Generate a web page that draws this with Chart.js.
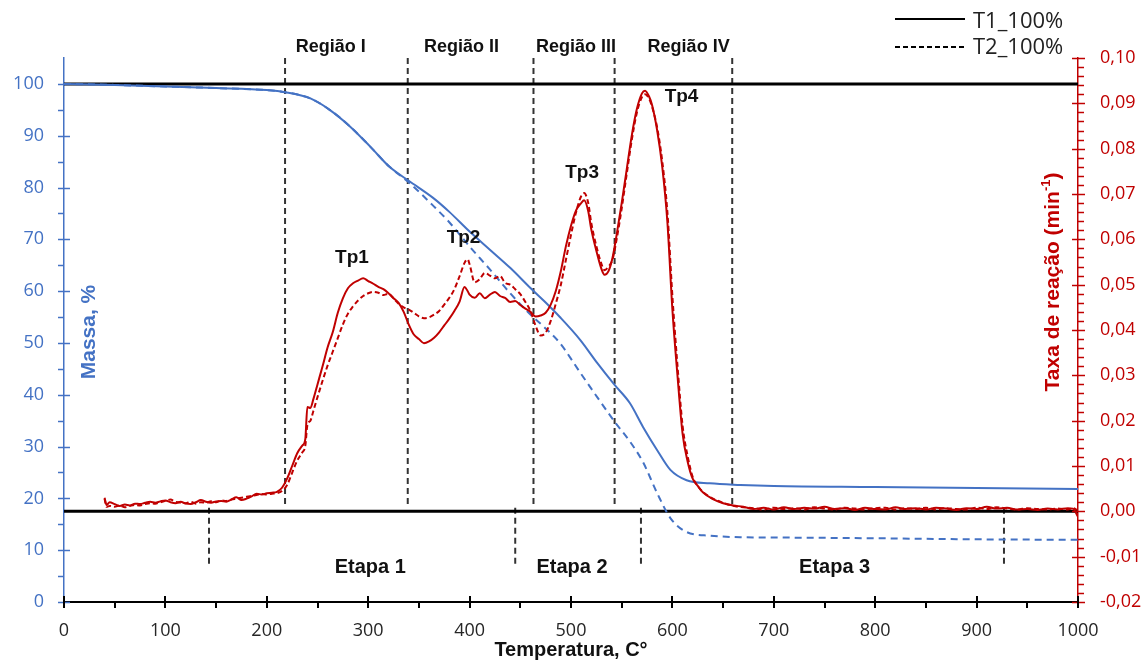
<!DOCTYPE html>
<html>
<head>
<meta charset="utf-8">
<script src="https://cdn.jsdelivr.net/npm/chart.js@4.4.0/dist/chart.umd.min.js"></script>
<style>
  html, body { margin: 0; padding: 0; background: #fff; }
</style>
</head>
<body>
<canvas id="chart" width="1145" height="662"></canvas>
<script>
// Mass loss (TG) curves, %
const massTemps = [0, 50, 100, 150, 200, 218, 243, 262, 282, 302,
  321, 340, 364, 380, 400, 420, 440, 460, 475, 489,
  509, 526, 543, 558, 571, 585, 598, 614, 637, 667,
  700, 800, 900, 1000];
const massT1 = [100, 99.8, 99.5, 99.2, 98.8, 98.4, 97.2, 95.0, 91.8, 87.9,
  84.0, 81.3, 78.0, 75.3, 71.5, 68.0, 64.5, 60.6, 57.8, 55.0,
  50.6, 46.1, 41.9, 38.4, 33.8, 29.3, 25.5, 23.5, 22.9, 22.6,
  22.4, 22.2, 22.0, 21.8];
const massT2 = [100, 99.8, 99.5, 99.2, 98.8, 98.4, 97.2, 95.0, 91.8, 87.9,
  84.0, 81.0, 76.5, 73.3, 68.6, 64.2, 59.6, 55.5, 52.8, 50.0,
  44.3, 39.5, 34.8, 31.0, 27.0, 21.0, 16.2, 13.5, 12.8, 12.5,
  12.45, 12.3, 12.1, 12.0];

// Reaction rate (DTG) curves, min^-1
const rateTemps = [40, 42, 45, 50, 55, 60, 65, 70, 75, 80,
  85, 90, 95, 100, 105, 110, 115, 120, 125, 130,
  135, 140, 145, 150, 155, 160, 165, 170, 175, 180,
  185, 190, 195, 200, 205, 210, 215, 220, 225, 230,
  235, 238, 240, 243, 246, 250, 255, 260, 265, 270,
  275, 280, 285, 290, 295, 300, 305, 310, 315, 320,
  325, 330, 335, 340, 345, 350, 355, 360, 365, 370,
  375, 380, 385, 390, 395, 398, 400, 405, 410, 415,
  420, 425, 430, 435, 440, 445, 450, 455, 460, 465,
  470, 475, 480, 485, 490, 495, 500, 505, 510, 513,
  517, 520, 525, 530, 533, 537, 541, 545, 550, 555,
  560, 565, 570, 573, 577, 580, 585, 590, 595, 600,
  605, 610, 615, 620, 625, 630, 640, 650, 660, 670,
  680, 690, 700, 710, 720, 730, 740, 750, 760, 770,
  780, 790, 800, 810, 820, 830, 840, 850, 860, 870,
  880, 890, 900, 910, 920, 930, 940, 950, 960, 970,
  980, 990, 995, 1000];
const rateT1 = [0.0030, 0.0014, 0.0020, 0.0016, 0.0012, 0.0015, 0.0013, 0.0017, 0.0016, 0.0019,
  0.0021, 0.0019, 0.0022, 0.0024, 0.0020, 0.0018, 0.0021, 0.0017, 0.0016, 0.0020,
  0.0025, 0.0021, 0.0019, 0.0022, 0.0023, 0.0021, 0.0026, 0.0031, 0.0025, 0.0028,
  0.0033, 0.0039, 0.0037, 0.0040, 0.0041, 0.0043, 0.0052, 0.0072, 0.0100, 0.0128,
  0.0145, 0.0160, 0.0230, 0.0228, 0.0248, 0.0280, 0.0320, 0.0362, 0.0395, 0.0438,
  0.0470, 0.0492, 0.0503, 0.0509, 0.0514, 0.0508, 0.0502, 0.0495, 0.0490, 0.0481,
  0.0470, 0.0460, 0.0440, 0.0412, 0.0390, 0.0380, 0.0371, 0.0375, 0.0383, 0.0395,
  0.0410, 0.0425, 0.0442, 0.0462, 0.0495, 0.0486, 0.0478, 0.0471, 0.0481, 0.0470,
  0.0478, 0.0484, 0.0475, 0.0471, 0.0462, 0.0464, 0.0455, 0.0447, 0.0440, 0.0430,
  0.0432, 0.0438, 0.0456, 0.0486, 0.0530, 0.0585, 0.0630, 0.0664, 0.0680, 0.0686,
  0.0662, 0.0622, 0.0575, 0.0535, 0.0522, 0.0530, 0.0560, 0.0610, 0.0680, 0.0755,
  0.0830, 0.0888, 0.0922, 0.0928, 0.0915, 0.0896, 0.0840, 0.0760, 0.0640, 0.0445,
  0.0300, 0.0172, 0.0110, 0.0072, 0.0056, 0.0042, 0.0027, 0.0018, 0.0013, 0.0010,
  0.0005, 0.0008, 0.0004, 0.0009, 0.0005, 0.0008, 0.0006, 0.0010, 0.0005, 0.0007,
  0.0003, 0.0008, 0.0005, 0.0004, 0.0009, 0.0005, 0.0007, 0.0004, 0.0008, 0.0006,
  0.0003, 0.0007, 0.0005, 0.0010, 0.0006, 0.0008, 0.0004, 0.0005, 0.0003, 0.0006,
  0.0004, 0.0007, 0.0006, -0.0012];
const rateT2 = [0.0028, 0.0010, 0.0012, 0.0010, 0.0013, 0.0009, 0.0012, 0.0014, 0.0013, 0.0016,
  0.0018, 0.0017, 0.0020, 0.0023, 0.0026, 0.0021, 0.0019, 0.0018, 0.0021, 0.0017,
  0.0020, 0.0019, 0.0022, 0.0020, 0.0024, 0.0023, 0.0026, 0.0028, 0.0030, 0.0032,
  0.0034, 0.0036, 0.0038, 0.0037, 0.0039, 0.0040, 0.0045, 0.0058, 0.0085, 0.0112,
  0.0130, 0.0145, 0.0190, 0.0200, 0.0222, 0.0252, 0.0288, 0.0322, 0.0352, 0.0382,
  0.0412, 0.0436, 0.0452, 0.0465, 0.0475, 0.0481, 0.0484, 0.0482, 0.0477, 0.0480,
  0.0470, 0.0458, 0.0450, 0.0445, 0.0438, 0.0430, 0.0426, 0.0428, 0.0434, 0.0442,
  0.0456, 0.0471, 0.0490, 0.0518, 0.0548, 0.0556, 0.0545, 0.0505, 0.0512, 0.0526,
  0.0520, 0.0514, 0.0519, 0.0504, 0.0500, 0.0490, 0.0479, 0.0462, 0.0442, 0.0410,
  0.0388, 0.0394, 0.0420, 0.0458, 0.0500, 0.0555, 0.0610, 0.0660, 0.0695, 0.0702,
  0.0680, 0.0636, 0.0585, 0.0546, 0.0532, 0.0540, 0.0556, 0.0600, 0.0668, 0.0745,
  0.0820, 0.0880, 0.0914, 0.0920, 0.0910, 0.0892, 0.0846, 0.0772, 0.0662, 0.0475,
  0.0322, 0.0190, 0.0122, 0.0076, 0.0056, 0.0043, 0.0028, 0.0019, 0.0012, 0.0009,
  0.0007, 0.0004, 0.0008, 0.0005, 0.0007, 0.0004, 0.0009, 0.0006, 0.0004, 0.0008,
  0.0006, 0.0004, 0.0007, 0.0008, 0.0004, 0.0007, 0.0005, 0.0008, 0.0004, 0.0007,
  0.0005, 0.0004, 0.0008, 0.0005, 0.0009, 0.0006, 0.0004, 0.0007, 0.0005, 0.0004,
  0.0006, 0.0004, 0.0007, 0.0002];

// Region and stage boundaries (°C)
const regionBounds = [218, 339, 463, 543, 659];
const stageBounds = [143, 445, 569, 927];

// Annotations: [text, temperature, mass-axis value]
const regionLabels = [['Região I', 263, 107.1], ['Região II', 392, 107.1], ['Região III', 505, 107.1], ['Região IV', 616, 107.1]];
const peakLabels = [['Tp1', 284, 66.4], ['Tp2', 394, 70.3], ['Tp3', 511, 82.8], ['Tp4', 609, 97.5]];
const stageLabels = [['Etapa 1', 302, 6.6], ['Etapa 2', 501, 6.6], ['Etapa 3', 760, 6.6]];

const BLUE = '#4472C4';
const RED = '#C00000';
const BOLD = '"Liberation Sans", Arial, sans-serif';
const REG = '"Open Sans", sans-serif';

const xy = (xs, ys) => xs.map((t, i) => ({ x: t, y: ys[i] }));

const vline = (t, y0, y1) => ({
  data: [{ x: t, y: y0 }, { x: t, y: y1 }],
  yAxisID: 'y', borderColor: '#333', borderWidth: 2, borderDash: [6, 4],
  pointRadius: 0, fill: false
});

const datasets = [
  { label: 'T1_100% taxa', data: xy(rateTemps, rateT1), yAxisID: 'y2',
    borderColor: RED, borderWidth: 2, pointRadius: 0, tension: 0.2, cubicInterpolationMode: 'monotone' },
  { label: 'T2_100% taxa', data: xy(rateTemps, rateT2), yAxisID: 'y2',
    borderColor: RED, borderWidth: 2, borderDash: [5, 3], pointRadius: 0, tension: 0.2, cubicInterpolationMode: 'monotone' },
  { label: 'T1_100% massa', data: xy(massTemps, massT1), yAxisID: 'y',
    borderColor: BLUE, borderWidth: 2, pointRadius: 0, cubicInterpolationMode: 'monotone' },
  { label: 'T2_100% massa', data: xy(massTemps, massT2), yAxisID: 'y',
    borderColor: BLUE, borderWidth: 2, borderDash: [7, 5], pointRadius: 0, cubicInterpolationMode: 'monotone' },
  { data: [{ x: 0, y: 100 }, { x: 1000, y: 100 }], yAxisID: 'y',
    borderColor: '#000', borderWidth: 3, pointRadius: 0 },
  { data: [{ x: 0, y: 0 }, { x: 1000, y: 0 }], yAxisID: 'y2',
    borderColor: '#000', borderWidth: 3, pointRadius: 0 },
  ...regionBounds.map(t => vline(t, 105, 18.7)),
  ...stageBounds.map(t => vline(t, 18.2, 7.4))
];

function drawText(ctx, str, px, py, font, color, align) {
  ctx.font = font;
  ctx.fillStyle = color;
  ctx.textAlign = align || 'center';
  ctx.textBaseline = 'middle';
  ctx.fillText(str, px, py);
}

// Axis tick marks, labels, axis titles and legend
const overlay = {
  id: 'overlay',
  afterDraw(chart) {
    const { ctx } = chart;
    const { x, y, y2 } = chart.scales;
    ctx.save();
    ctx.lineCap = 'butt';

    // left axis ticks
    ctx.strokeStyle = BLUE;
    ctx.lineWidth = 1.5;
    const lx = y.right;
    for (let v = 0; v <= 100; v += 5) {
      const py = Math.round(y.getPixelForValue(v)) + 0.5;
      ctx.beginPath();
      ctx.moveTo(lx - 6, py);
      ctx.lineTo(v % 10 === 0 ? lx + 6 : lx, py);
      ctx.stroke();
    }

    // right axis ticks
    ctx.strokeStyle = RED;
    const rx = y2.left;
    for (let i = -10; i <= 50; i++) {
      const py = Math.round(y2.getPixelForValue(i * 0.002)) + 0.5;
      ctx.beginPath();
      if (i % 5 === 0) {
        ctx.moveTo(rx - 6, py);
        ctx.lineTo(rx + 7, py);
      } else {
        ctx.moveTo(rx, py);
        ctx.lineTo(rx + 6, py);
      }
      ctx.stroke();
    }

    // bottom axis ticks
    ctx.strokeStyle = '#000';
    ctx.lineWidth = 2;
    const by = x.top;
    for (let t = 0; t <= 1000; t += 50) {
      const px = Math.round(x.getPixelForValue(t));
      ctx.beginPath();
      ctx.moveTo(px, t % 100 === 0 ? by - 6 : by);
      ctx.lineTo(px, by + 6);
      ctx.stroke();
    }

    // annotations
    regionLabels.forEach(([s, t, v]) =>
      drawText(ctx, s, x.getPixelForValue(t), y.getPixelForValue(v), 'bold 18px ' + BOLD, '#111'));
    peakLabels.forEach(([s, t, v]) =>
      drawText(ctx, s, x.getPixelForValue(t), y.getPixelForValue(v), 'bold 19px ' + BOLD, '#111'));
    stageLabels.forEach(([s, t, v]) =>
      drawText(ctx, s, x.getPixelForValue(t), y.getPixelForValue(v), 'bold 20px ' + BOLD, '#111'));

    // axis titles
    drawText(ctx, 'Temperatura, C°', 571, 650, 'bold 20px ' + BOLD, '#111');

    ctx.save();
    ctx.translate(89, 332);
    ctx.rotate(-Math.PI / 2);
    drawText(ctx, 'Massa, %', 0, 0, 'bold 21px ' + BOLD, BLUE);
    ctx.restore();

    ctx.save();
    ctx.translate(1053, 282);
    ctx.rotate(-Math.PI / 2);
    const big = 'bold 21px ' + BOLD, small = 'bold 13px ' + BOLD;
    ctx.font = big;
    const w1 = ctx.measureText('Taxa de reação (min').width;
    const w3 = ctx.measureText(')').width;
    ctx.font = small;
    const w2 = ctx.measureText('-1').width;
    const sx = -(w1 + w2 + w3) / 2;
    drawText(ctx, 'Taxa de reação (min', sx, 0, big, RED, 'left');
    drawText(ctx, '-1', sx + w1, -7, small, RED, 'left');
    drawText(ctx, ')', sx + w1 + w2, 0, big, RED, 'left');
    ctx.restore();

    // legend
    ctx.strokeStyle = '#000';
    ctx.lineWidth = 2;
    ctx.beginPath();
    ctx.moveTo(895, 19); ctx.lineTo(965, 19);
    ctx.stroke();
    ctx.setLineDash([5, 3]);
    ctx.beginPath();
    ctx.moveTo(895, 47); ctx.lineTo(965, 47);
    ctx.stroke();
    ctx.setLineDash([]);
    drawText(ctx, 'T1_100%', 973, 22, '22px ' + REG, '#222', 'left');
    drawText(ctx, 'T2_100%', 973, 48, '22px ' + REG, '#222', 'left');

    ctx.restore();
  }
};

new Chart(document.getElementById('chart'), {
  type: 'line',
  data: { datasets },
  plugins: [overlay],
  options: {
    responsive: false,
    animation: false,
    layout: { padding: { top: 58, left: 0, right: 0, bottom: 0 } },
    plugins: { legend: { display: false }, tooltip: { enabled: false } },
    scales: {
      x: {
        type: 'linear', position: 'bottom', min: 0, max: 1000,
        grid: { display: false, drawTicks: false },
        border: { color: '#000', width: 2 },
        ticks: { stepSize: 100, padding: 18, color: '#262626', font: { family: 'Open Sans', size: 18 },
          callback: v => String(v) },
        afterFit: s => { s.height = 60; }
      },
      y: {
        position: 'left', min: 0, max: 105,
        grid: { display: false, drawTicks: false },
        border: { color: BLUE, width: 1.5 },
        ticks: { stepSize: 10, padding: 20, color: BLUE, font: { family: 'Open Sans', size: 18 } },
        afterBuildTicks: s => { s.ticks = s.ticks.filter(t => t.value <= 100); },
        afterFit: s => { s.width = 64; }
      },
      y2: {
        position: 'right', min: -0.02, max: 0.10,
        grid: { display: false, drawTicks: false },
        border: { color: RED, width: 1.5 },
        ticks: {
          stepSize: 0.01, padding: 22, color: RED, font: { family: 'Open Sans', size: 18 },
          callback: v => (Math.abs(v) < 1e-9 ? 0 : v).toFixed(2).replace('.', ',')
        },
        afterFit: s => { s.width = 67; }
      }
    }
  }
});
</script>
</body>
</html>
